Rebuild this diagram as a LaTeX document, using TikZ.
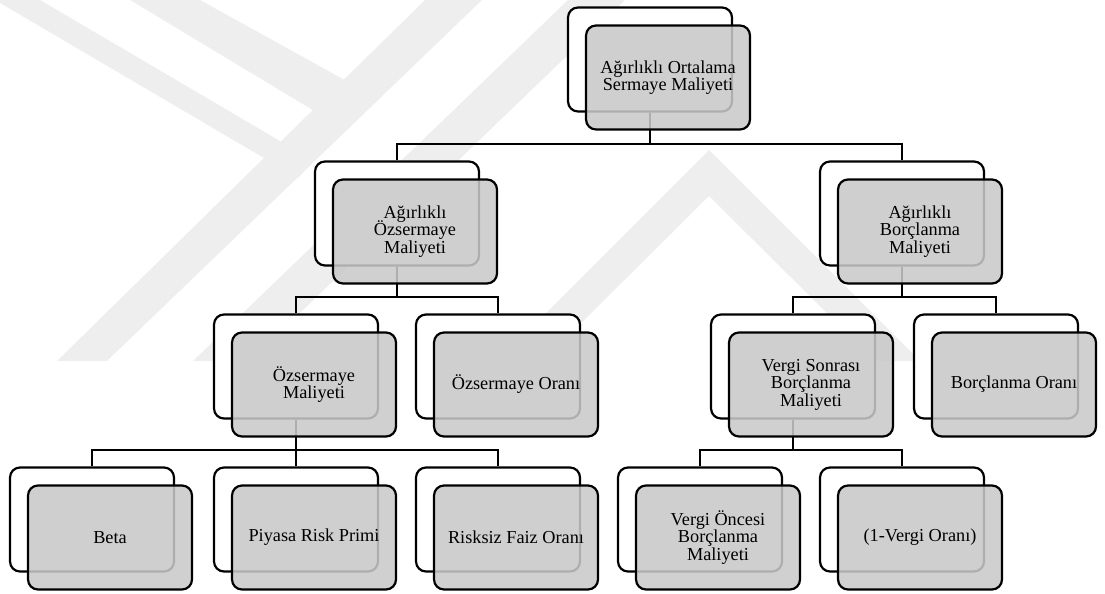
\documentclass[tikz,border=0pt]{standalone}
\usepackage{fontspec}
\setmainfont{Liberation Serif}
\usetikzlibrary{positioning}
\definecolor{boxgray}{RGB}{201,201,201}
\definecolor{wmgray}{RGB}{238,238,238}
\lineskiplimit=-20pt

\begin{document}
\begin{tikzpicture}[x=0.02cm, y=-0.02cm,
    back/.style={draw, line width=1.25pt, rounded corners=2mm, fill=white, minimum width=3.28cm, minimum height=2.08cm, inner sep=1pt},
    front/.style={back, fill=boxgray, fill opacity=0.87, text opacity=1, align=center, font={\fontsize{10.4}{10}\selectfont}},
    link/.style={line width=1.1pt}]
    \useasboundingbox (0,0) rectangle (1105,594);

    % faint watermark stripes in the background
    \fill[wmgray] (425,0) -- (482,0) -- (107,361) -- (57,361) -- cycle;
    \fill[wmgray] (-5,0) -- (40,0) -- (314,161) -- (298,178) -- cycle;
    \fill[wmgray] (130,0) -- (200,0) -- (379,99) -- (346,130) -- cycle;
    \fill[wmgray] (568,0) -- (625,0) -- (250,361) -- (193,361) -- cycle;
    \fill[wmgray] (709,150) -- (920,361) -- (875,361) -- (709,196) -- (543,361) -- (498,361) -- cycle;

    % white boxes behind, one per item (centres in pixels)
    \foreach \n/\x/\y in {wacc/650/59.5, aom/397/213.5, abm/902/213.5,
                          om/296/366.5, oo/498/366.5, vsbm/793/366.5, bo/996/366.5,
                          beta/92/519.5, prp/296/519.5, rfo/498/519.5, vobm/700/519.5, vo/902/519.5} {
        \node[back] (\n-b) at (\x,\y) {};
    }

    % elbow lines from each child up to its parent
    \foreach \p/\c in {wacc/aom, wacc/abm, aom/om, aom/oo, abm/vsbm, abm/bo,
                       om/beta, om/prp, om/rfo, vsbm/vobm, vsbm/vo} {
        \draw[link] (\c-b.north) -- ++(0,-16) -| (\p-b.south);
    }

    % grey boxes in front, shifted down and right
    \foreach \n/\txt in {wacc/{Ağırlıklı Ortalama\\Sermaye Maliyeti},
                       aom/{Ağırlıklı\\Özsermaye\\Maliyeti},
                       abm/{Ağırlıklı\\Borçlanma\\Maliyeti},
                       om/{Özsermaye\\Maliyeti},
                       oo/{Özsermaye Oranı},
                       vsbm/{Vergi Sonrası\\Borçlanma\\Maliyeti},
                       bo/{Borçlanma Oranı},
                       beta/{Beta},
                       prp/{Piyasa Risk Primi},
                       rfo/{Risksiz Faiz Oranı},
                       vobm/{Vergi Öncesi\\Borçlanma\\Maliyeti},
                       vo/{(1-Vergi Oranı)}} {
        \node[front] (\n) at ([shift={(18,18)}]\n-b) {\txt};
    }
\end{tikzpicture}
\end{document}
